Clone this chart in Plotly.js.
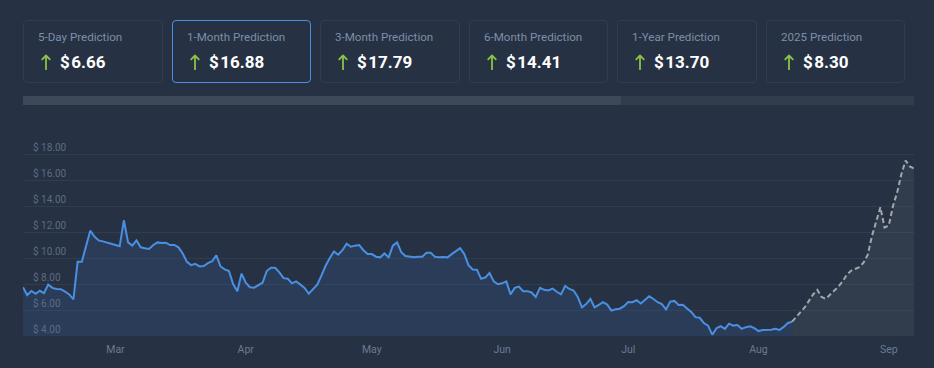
<!DOCTYPE html>
<html>
<head>
<meta charset="utf-8">
<script src="https://cdn.plot.ly/plotly-3.0.1.min.js"></script>
<style>
  html, body { margin:0; padding:0; background:#263143; width:934px; height:368px; overflow:hidden; font-family: Roboto, "Noto Sans", sans-serif; }
  #chart { position:absolute; left:0; top:0; width:934px; height:368px; }
  .card { position:absolute; top:20px; height:63px; box-sizing:border-box; border:1px solid #313d50; border-radius:4px; background:#263143; z-index:2; }
  .card.sel { border-color:#4a90e2; }
  .card .t { position:absolute; left:14px; top:9px; font-size:11.6px; line-height:14px; color:#7d8ea8; white-space:nowrap; }
  .card svg { position:absolute; left:17px; top:33px; }
  .card .v { position:absolute; left:36px; top:31px; font-size:17px; line-height:20px; font-weight:700; color:#ffffff; white-space:nowrap; }
  .card .v .d { margin-right:1.5px; }
  .track { position:absolute; left:23px; top:96px; width:891px; height:9px; background:#323c4d; z-index:2; }
  .thumb { position:absolute; left:23px; top:96px; width:598px; height:9px; background:#3e4859; z-index:3; }
</style>
</head>
<body>
<div id="chart"></div>
<div class="track"></div>
<div class="thumb"></div>
<div id="cards"></div>
<script>
// ---- data ----
const cardLabels = ["5-Day Prediction", "1-Month Prediction", "3-Month Prediction", "6-Month Prediction", "1-Year Prediction", "2025 Prediction"];
const cardValues = ["6.66", "16.88", "17.79", "14.41", "13.70", "8.30"];
const selectedCard = 1;

const priceStart = "2024-02-08";
const priceValues = [
  7.75, 7.15, 7.46, 7.25, 7.48, 7.3, 7.95, 7.7, 7.62, 7.6,
  7.42, 7.2, 6.82, 9.72, 9.72, 10.85, 12.1, 11.65, 11.35, 11.28,
  11.2, 11.12, 11.0, 10.9, 12.9, 11.2, 10.95, 11.35, 10.82, 10.75,
  10.7, 11.0, 11.2, 11.15, 11.18, 11.0, 11.0, 10.82, 10.35, 9.7,
  9.45, 9.55, 9.35, 9.38, 9.6, 9.75, 10.2, 9.35, 9.12, 9.0,
  8.0, 7.45, 8.8, 8.1, 7.75, 7.72, 7.9, 8.1, 9.0, 9.25,
  9.25, 8.9, 8.45, 8.4, 8.05, 8.2, 7.95, 7.7, 7.25, 7.6,
  7.95, 8.65, 9.4, 10.0, 10.5, 10.25, 10.6, 11.1, 10.87, 10.95,
  11.0, 10.6, 10.3, 10.3, 10.1, 10.05, 10.35, 10.05, 10.95, 11.2,
  10.45, 10.15, 10.1, 10.05, 10.1, 10.1, 10.4, 10.4, 10.1, 10.06,
  10.08, 10.05, 10.3, 10.5, 10.75, 10.3, 9.45, 9.12, 9.1, 8.4,
  8.5, 8.85, 8.2, 7.98, 8.05, 8.2, 7.2, 7.7, 7.8, 7.45,
  7.45, 7.35, 7.0, 7.7, 7.55, 7.5, 7.65, 7.4, 7.2, 7.85,
  7.62, 7.5, 7.0, 6.2, 6.45, 6.85, 6.2, 6.4, 6.6, 6.42,
  5.95, 6.05, 6.1, 6.3, 6.62, 6.6, 6.75, 6.5, 6.75, 7.05,
  6.85, 6.6, 6.45, 6.05, 6.65, 6.7, 6.38, 6.4, 6.12, 5.85,
  5.45, 5.4, 5.0, 4.8, 4.1, 4.6, 4.75, 4.55, 4.95, 4.8,
  4.85, 4.55, 4.68, 4.75, 4.6, 4.38, 4.46, 4.47, 4.48, 4.55,
  4.46, 4.7, 5.0, 5.1
];

const forecastStart = "2024-08-09";
const forecastValues = [
  5.1, 5.45, 5.85, 6.2, 6.7, 7.2, 7.55, 7.0, 6.85, 7.15,
  7.45, 7.8, 8.2, 8.7, 9.02, 9.15, 9.3, 9.65, 10.25, 11.7,
  12.85, 13.9, 12.35, 12.5, 14.0, 15.05, 16.45, 17.5, 17.05, 16.88
];

const xRange = ["2024-02-08", "2024-09-07"];
const yTicks = [4, 6, 8, 10, 12, 14, 16, 18];

// ---- helpers ----
function dailyDates(start, n) {
  const out = [];
  const d0 = new Date(start + "T00:00:00Z");
  for (let i = 0; i < n; i++) {
    const d = new Date(d0.getTime() + i * 86400000);
    out.push(d.toISOString().slice(0, 10));
  }
  return out;
}

// ---- cards ----
const cardsEl = document.getElementById("cards");
const cardLefts = [23, 172, 320, 469, 617, 766];
const cardWidths = [140, 139, 140, 139, 140, 139];
cardLabels.forEach((lab, i) => {
  const c = document.createElement("div");
  c.className = "card" + (i === selectedCard ? " sel" : "");
  c.style.left = cardLefts[i] + "px";
  c.style.width = cardWidths[i] + "px";
  c.innerHTML =
    '<div class="t">' + lab + '</div>' +
    '<svg width="10" height="16" viewBox="0 0 10 16"><path d="M5 15.5 V1.5 M1.2 5.3 L5 1.5 L8.8 5.3" stroke="#8bc34a" stroke-width="1.8" fill="none" stroke-linecap="round" stroke-linejoin="round"/></svg>' +
    '<div class="v"><span class="d">$</span>' + cardValues[i] + '</div>';
  cardsEl.appendChild(c);
});

// ---- chart ----
const priceTrace = {
  x: dailyDates(priceStart, priceValues.length),
  y: priceValues,
  type: "scatter",
  mode: "lines",
  line: { color: "#4a90e2", width: 2 },
  fill: "tozeroy",
  fillcolor: "rgba(52, 84, 130, 0.35)",
  hoverinfo: "skip"
};
const forecastTrace = {
  x: dailyDates(forecastStart, forecastValues.length),
  y: forecastValues,
  type: "scatter",
  mode: "lines",
  line: { color: "#a3a6ab", width: 2, dash: "5px,3px" },
  fill: "tozeroy",
  fillcolor: "rgba(120, 128, 140, 0.14)",
  hoverinfo: "skip"
};

const layout = {
  width: 934,
  height: 368,
  margin: { l: 23, r: 20, t: 138, b: 32, pad: 0 },
  paper_bgcolor: "rgba(0,0,0,0)",
  plot_bgcolor: "rgba(0,0,0,0)",
  showlegend: false,
  font: { family: "Roboto, sans-serif" },
  xaxis: {
    type: "date",
    range: xRange,
    tickformat: "%b",
    dtick: "M1",
    tick0: "2024-03-01",
    showgrid: false,
    zeroline: false,
    showline: false,
    ticks: "",
    ticklabelstandoff: 5,
    tickfont: { size: 10.5, color: "#6b7b94" },
    fixedrange: true
  },
  yaxis: {
    range: [4, 4 + 198 / 13],
    tickvals: yTicks,
    ticktext: yTicks.map(v => "$ " + v.toFixed(2)),
    ticklabelposition: "inside top",
    ticklabelstandoff: 7,
    showgrid: true,
    gridcolor: "#303c4f",
    gridwidth: 1,
    zeroline: false,
    showline: false,
    ticks: "",
    tickfont: { size: 10, color: "#5d6c84" },
    fixedrange: true
  }
};

Plotly.newPlot("chart", [priceTrace, forecastTrace], layout, { displayModeBar: false, staticPlot: true });
</script>
</body>
</html>
